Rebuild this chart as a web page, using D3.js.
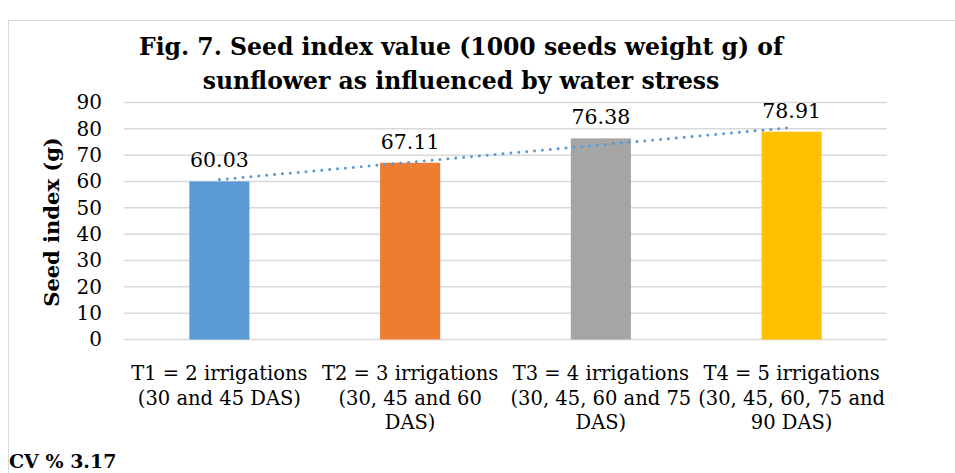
<!DOCTYPE html>
<html>
<head>
<meta charset="utf-8">
<script src="https://cdn.jsdelivr.net/npm/d3@7"></script>
<style>
  body { margin: 0; background: #fff; }
  text { font-family: "DejaVu Serif", serif; }
</style>
</head>
<body>
<script>
// chart values
var treatments = ['T1', 'T2', 'T3', 'T4'];
var seedIndex = [60.03, 67.11, 76.38, 78.91];
var labelLines = [
    ['T1 = 2 irrigations', '(30 and 45 DAS)'],
    ['T2 = 3 irrigations', '(30, 45 and 60', 'DAS)'],
    ['T3 = 4 irrigations', '(30, 45, 60 and 75', 'DAS)'],
    ['T4 = 5 irrigations', '(30, 45, 60, 75 and', '90 DAS)']
];
var yTicks = [0, 10, 20, 30, 40, 50, 60, 70, 80, 90];
var barColors = ['#5b9bd5', '#ed7d31', '#a5a5a5', '#ffc000'];

var width = 955, height = 473;

var svg = d3.select('body')
    .append('svg')
    .attr('width', width)
    .attr('height', height);

// outer frame
svg.append('rect')
    .attr('x', 8.5)
    .attr('y', 20.5)
    .attr('width', 960)
    .attr('height', 470)
    .attr('fill', 'none')
    .attr('stroke', '#d9d9d9')
    .attr('stroke-width', 1);

var x = d3.scaleBand()
    .domain(treatments)
    .range([124, 887])
    .paddingInner(0.685)
    .paddingOuter(0.3425);

var y = d3.scaleLinear()
    .domain([0, 90])
    .range([339.5, 102.5]);

// gridlines
svg.append('g')
    .selectAll('line')
    .data(yTicks)
    .join('line')
    .attr('x1', 124)
    .attr('x2', 887)
    .attr('y1', function(d) { return y(d); })
    .attr('y2', function(d) { return y(d); })
    .attr('stroke', '#d9d9d9')
    .attr('stroke-width', 1.5);

// y axis labels
var yAxis = svg.append('g')
    .attr('transform', 'translate(124,0)')
    .call(d3.axisLeft(y).tickValues(yTicks).tickSize(0).tickPadding(22));
yAxis.select('.domain').remove();
yAxis.selectAll('text')
    .attr('font-family', '"DejaVu Serif", serif')
    .attr('font-size', 20)
    .attr('fill', '#000');

// bars
svg.append('g')
    .selectAll('rect')
    .data(seedIndex)
    .join('rect')
    .attr('x', function(d, i) { return x(treatments[i]); })
    .attr('y', function(d) { return y(d); })
    .attr('width', x.bandwidth())
    .attr('height', function(d) { return y(0) - y(d); })
    .attr('fill', function(d, i) { return barColors[i]; });

// value labels
svg.append('g')
    .selectAll('text')
    .data(seedIndex)
    .join('text')
    .attr('x', function(d, i) { return x(treatments[i]) + x.bandwidth() / 2; })
    .attr('y', function(d) { return y(d) - 14; })
    .attr('font-size', 20.5)
    .style('text-anchor', 'middle')
    .text(function(d) { return d.toFixed(2); });

// linear trendline (least squares over category index)
var n = seedIndex.length;
var xs = d3.range(1, n + 1);
var mx = d3.mean(xs), my = d3.mean(seedIndex);
var slope = d3.sum(xs, function(v, i) { return (v - mx) * (seedIndex[i] - my); }) /
            d3.sum(xs, function(v) { return (v - mx) * (v - mx); });
var icpt = my - slope * mx;
var trend = [
    {t: treatments[0], v: icpt + slope * 1},
    {t: treatments[n - 1], v: icpt + slope * n}
];
var line = d3.line()
    .x(function(d) { return x(d.t) + x.bandwidth() / 2; })
    .y(function(d) { return y(d.v); });

svg.append('path')
    .attr('d', line(trend))
    .attr('fill', 'none')
    .attr('stroke', '#5b9bd5')
    .attr('stroke-width', 3)
    .attr('stroke-linecap', 'round')
    .attr('stroke-dasharray', '0.01 7.9');

// category labels
var cats = svg.append('g')
    .selectAll('text')
    .data(labelLines)
    .join('text')
    .attr('font-size', 19.5)
    .style('text-anchor', 'middle')
    .attr('transform', function(d, i) {
        return 'translate(' + (x(treatments[i]) + x.bandwidth() / 2) + ',380)';
    });
cats.selectAll('tspan')
    .data(function(d) { return d; })
    .join('tspan')
    .attr('x', 0)
    .attr('y', function(d, i) { return i * 24.5; })
    .text(function(d) { return d; });

// y axis title
svg.append('text')
    .attr('transform', 'translate(59,222) rotate(-90)')
    .attr('font-size', 21)
    .attr('font-weight', 'bold')
    .style('text-anchor', 'middle')
    .text('Seed index (g)');

// title
svg.append('text')
    .attr('x', 461)
    .attr('y', 55)
    .attr('font-size', 23.5)
    .attr('font-weight', 'bold')
    .style('text-anchor', 'middle')
    .text('Fig. 7. Seed index value (1000 seeds weight g) of');

svg.append('text')
    .attr('x', 461)
    .attr('y', 89)
    .attr('font-size', 23.5)
    .attr('font-weight', 'bold')
    .style('text-anchor', 'middle')
    .text('sunflower as influenced by water stress');

// footnote
svg.append('text')
    .attr('x', 9)
    .attr('y', 468)
    .attr('font-size', 19)
    .attr('font-weight', 'bold')
    .text('CV % 3.17');
</script>
</body>
</html>
